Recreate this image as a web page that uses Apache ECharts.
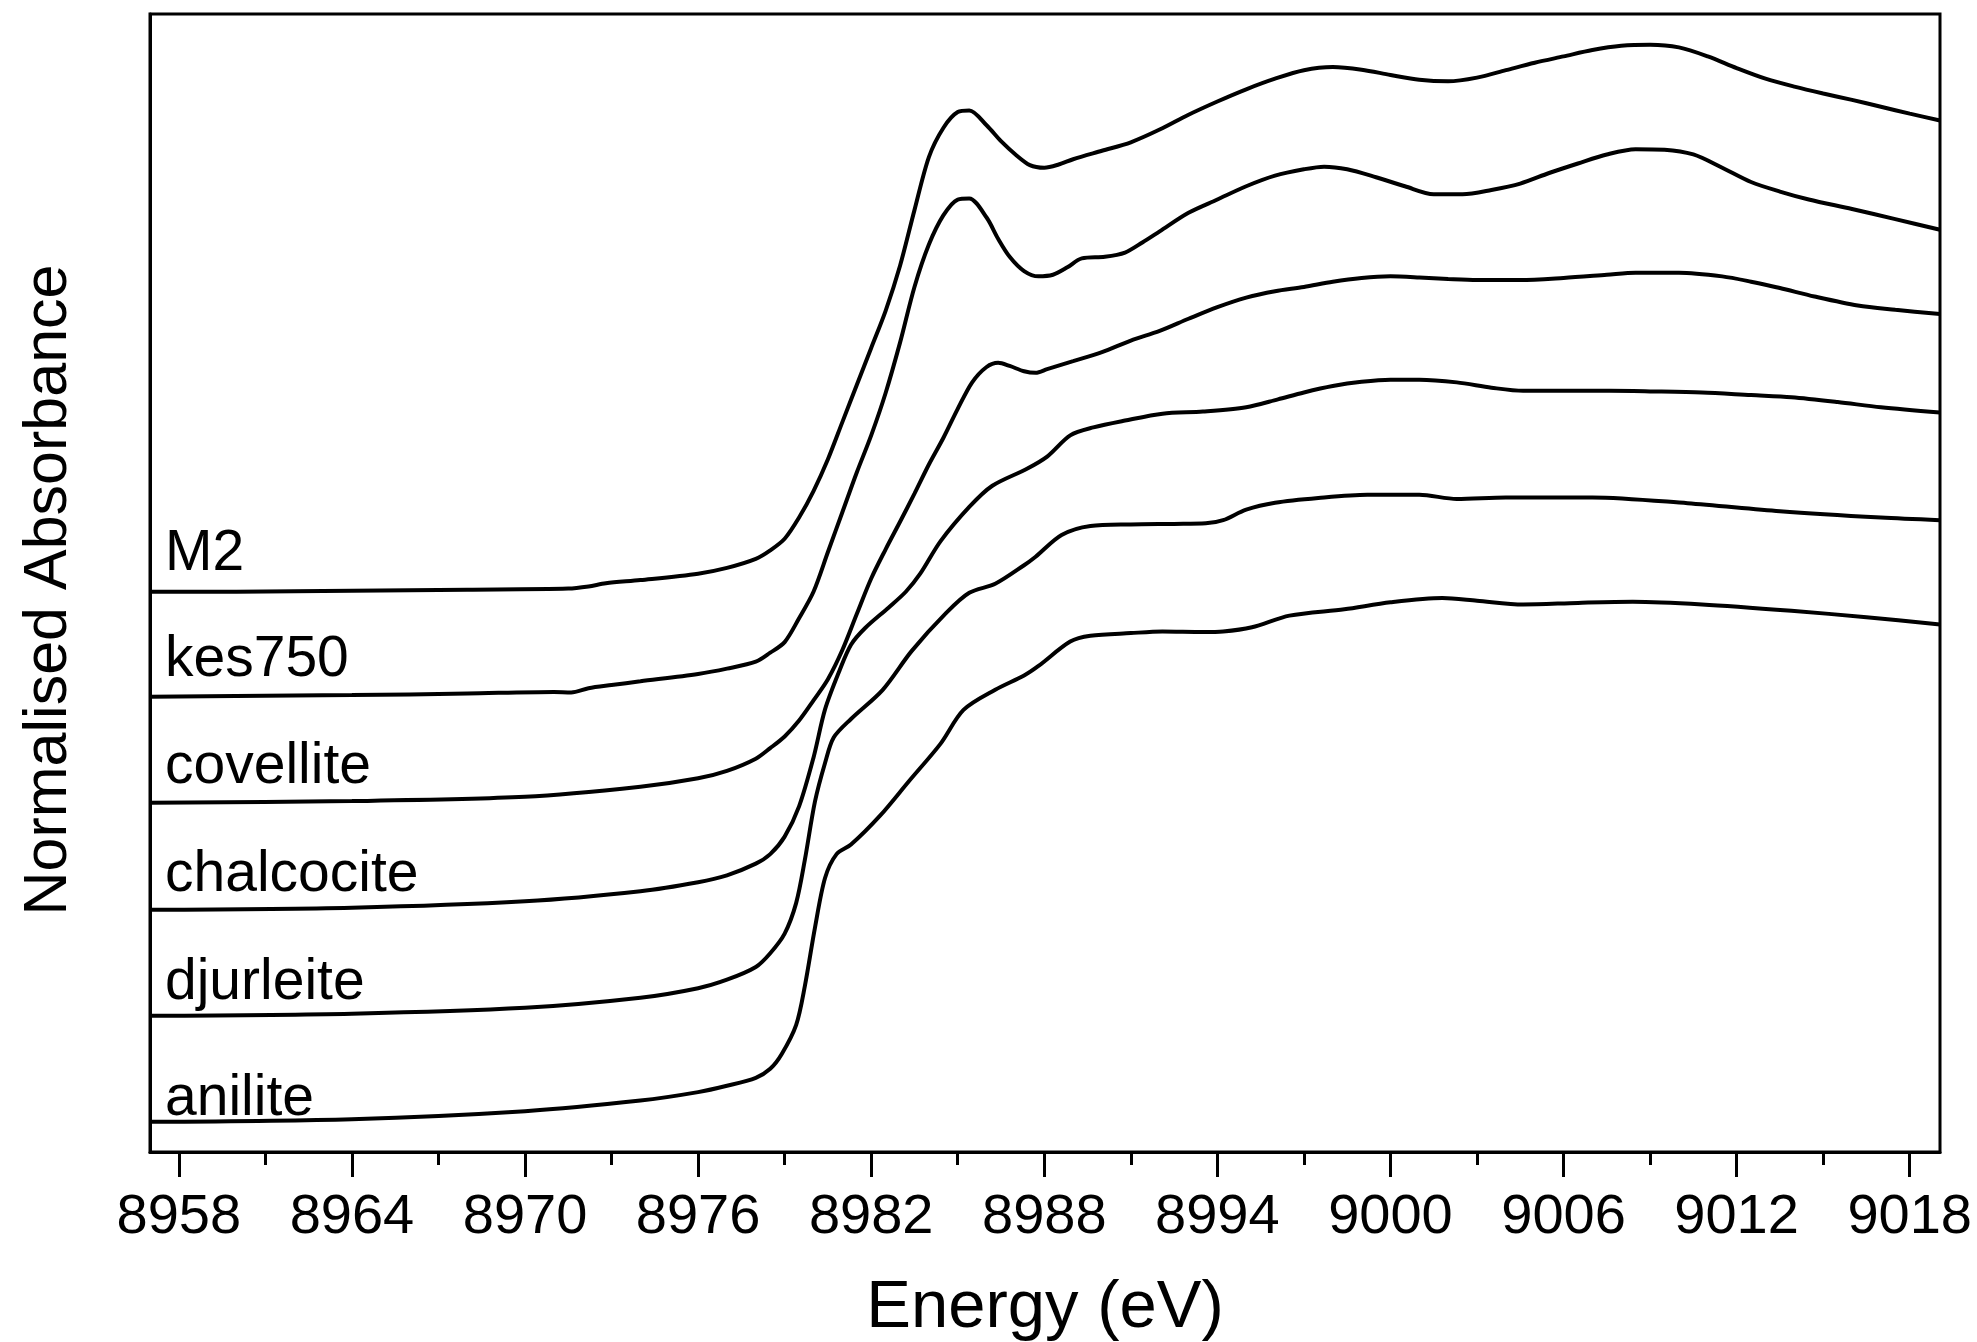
<!DOCTYPE html>
<html>
<head>
<meta charset="utf-8">
<script src="https://cdn.jsdelivr.net/npm/echarts@6/dist/echarts.min.js"></script>
<style>
  html, body { margin: 0; padding: 0; background: #fff; }
  #chart { width: 1977px; height: 1342px; }
</style>
</head>
<body>
<div id="chart"></div>
<script>
// ---------- data (stacked, offset-included normalised absorbance) ----------
const seriesNames = ['M2', 'kes750', 'covellite', 'chalcocite', 'djurleite', 'anilite'];

const m2E = [8957, 8960, 8964, 8968, 8971.5, 8972.2, 8972.8, 8974, 8976, 8977, 8978, 8978.5, 8979, 8979.5, 8980, 8980.5, 8981, 8981.5, 8982, 8982.5, 8983, 8983.5, 8984, 8984.5, 8985, 8985.4, 8986, 8986.5, 8987, 8987.5, 8988, 8988.5, 8989, 8990, 8991, 8992, 8993, 8994, 8995, 8996, 8997, 8998, 8999, 9000, 9001, 9002, 9003, 9004, 9005, 9006, 9007, 9008, 9009, 9010, 9011, 9012, 9013, 9014, 9015, 9016, 9017, 9018, 9019.05];
const m2Y = [1.000, 1.000, 1.002, 1.004, 1.006, 1.010, 1.016, 1.022, 1.034, 1.045, 1.062, 1.078, 1.100, 1.140, 1.190, 1.250, 1.320, 1.390, 1.460, 1.530, 1.615, 1.720, 1.820, 1.875, 1.905, 1.908, 1.880, 1.850, 1.825, 1.805, 1.800, 1.806, 1.816, 1.832, 1.848, 1.872, 1.900, 1.925, 1.948, 1.968, 1.984, 1.990, 1.985, 1.975, 1.966, 1.963, 1.970, 1.984, 1.998, 2.010, 2.022, 2.030, 2.032, 2.027, 2.010, 1.988, 1.968, 1.953, 1.940, 1.928, 1.915, 1.902, 1.889];

const kesE = [8957, 8964, 8968, 8971, 8971.6, 8972.2, 8973, 8974, 8976, 8977, 8978, 8978.5, 8979, 8979.5, 8980, 8980.5, 8981, 8981.5, 8982, 8982.5, 8983, 8983.5, 8984, 8984.5, 8985, 8985.4, 8986, 8986.4, 8986.8, 8987.3, 8987.8, 8988.3, 8988.8, 8989.3, 8990.1, 8990.8, 8991.4, 8992, 8993, 8994, 8995, 8996, 8997, 8997.7, 8998.5, 8999.5, 9000.5, 9001.5, 9002.5, 9003.5, 9004.5, 9005.5, 9006.5, 9007.5, 9008.5, 9009.5, 9010.5, 9011.5, 9012.5, 9013.5, 9014.5, 9016, 9017.5, 9019.05];
const kesY = [0.802, 0.805, 0.808, 0.811, 0.810, 0.818, 0.824, 0.831, 0.845, 0.855, 0.868, 0.885, 0.905, 0.950, 1.000, 1.075, 1.150, 1.225, 1.295, 1.375, 1.470, 1.575, 1.655, 1.710, 1.740, 1.742, 1.706, 1.666, 1.632, 1.605, 1.595, 1.598, 1.612, 1.629, 1.632, 1.640, 1.659, 1.680, 1.715, 1.740, 1.765, 1.785, 1.797, 1.802, 1.797, 1.782, 1.765, 1.750, 1.750, 1.758, 1.770, 1.790, 1.808, 1.825, 1.835, 1.834, 1.825, 1.800, 1.773, 1.755, 1.740, 1.722, 1.703, 1.683];

const covE = [8957, 8964, 8970, 8974, 8976, 8977, 8978, 8978.5, 8979, 8979.5, 8980, 8980.5, 8981, 8981.5, 8982, 8982.5, 8983, 8983.5, 8984, 8984.5, 8985, 8985.5, 8986, 8986.4, 8986.8, 8987.3, 8987.7, 8988.1, 8989, 8990, 8991, 8992, 8993, 8994, 8995, 8996, 8997, 8998, 8999, 9000, 9001, 9002, 9003, 9004.5, 9006, 9007.5, 9008.5, 9010, 9011.5, 9012.5, 9013.5, 9014.7, 9016.2, 9017.5, 9019.05];
const covY = [0.602, 0.605, 0.613, 0.632, 0.648, 0.662, 0.685, 0.705, 0.727, 0.757, 0.795, 0.835, 0.890, 0.958, 1.025, 1.080, 1.132, 1.185, 1.240, 1.290, 1.345, 1.395, 1.424, 1.432, 1.426, 1.416, 1.413, 1.420, 1.435, 1.452, 1.474, 1.492, 1.515, 1.537, 1.555, 1.567, 1.575, 1.585, 1.592, 1.595, 1.593, 1.590, 1.588, 1.588, 1.592, 1.598, 1.602, 1.602, 1.595, 1.585, 1.573, 1.557, 1.540, 1.532, 1.524];

const chaE = [8957, 8964, 8970, 8974, 8976, 8977, 8978, 8978.5, 8979, 8979.5, 8980, 8980.4, 8980.9, 8981.3, 8981.8, 8982.6, 8983.2, 8983.7, 8984.4, 8985.4, 8986.2, 8987.4, 8988.1, 8988.9, 8989.7, 8990.8, 8992.1, 8993.5, 8995, 8996.1, 8997, 8998, 8999, 9000, 9001, 9002.3, 9003.5, 9004.6, 9006, 9007.6, 9009, 9010.8, 9012.5, 9013.9, 9015.5, 9017, 9019.05];
const chaY = [0.400, 0.404, 0.416, 0.435, 0.452, 0.465, 0.487, 0.505, 0.538, 0.595, 0.687, 0.778, 0.851, 0.900, 0.932, 0.970, 1.000, 1.034, 1.095, 1.160, 1.200, 1.232, 1.255, 1.295, 1.310, 1.323, 1.336, 1.340, 1.348, 1.363, 1.376, 1.388, 1.396, 1.400, 1.400, 1.395, 1.385, 1.379, 1.379, 1.379, 1.378, 1.376, 1.371, 1.367, 1.358, 1.348, 1.338];

const djuE = [8957, 8964, 8970, 8974, 8976, 8977, 8978, 8978.5, 8979, 8979.4, 8979.7, 8980.05, 8980.4, 8980.7, 8981.3, 8982.4, 8983.4, 8984.6, 8985.4, 8986.3, 8987.3, 8987.7, 8988.6, 8989.6, 8991, 8992.5, 8993.6, 8994.2, 8995, 8996, 8997.5, 8999.2, 9001, 9002.3, 9004, 9007, 9010.3, 9013.5, 9017, 9019.05];
const djuY = [0.200, 0.204, 0.215, 0.234, 0.252, 0.268, 0.292, 0.318, 0.355, 0.413, 0.494, 0.604, 0.677, 0.725, 0.760, 0.815, 0.888, 0.960, 0.998, 1.015, 1.050, 1.066, 1.107, 1.124, 1.127, 1.128, 1.129, 1.135, 1.155, 1.168, 1.177, 1.183, 1.183, 1.175, 1.178, 1.178, 1.167, 1.152, 1.140, 1.135];

const aniE = [8957, 8964, 8970, 8974, 8976, 8977, 8978, 8978.5, 8978.9, 8979.4, 8979.7, 8980.05, 8980.4, 8980.8, 8981.3, 8982.3, 8983.3, 8984.4, 8985.2, 8986.3, 8987.3, 8987.8, 8988.9, 8989.6, 8991, 8992.1, 8993.5, 8994.2, 8995.2, 8996.5, 8998.4, 9000, 9001.8, 9003, 9004.6, 9006.5, 9008.4, 9010.8, 9013.9, 9016.5, 9019.05];
const aniY = [0.000, 0.005, 0.020, 0.040, 0.056, 0.068, 0.083, 0.100, 0.128, 0.183, 0.256, 0.366, 0.460, 0.505, 0.523, 0.577, 0.642, 0.713, 0.777, 0.815, 0.842, 0.860, 0.906, 0.917, 0.922, 0.925, 0.924, 0.925, 0.933, 0.955, 0.967, 0.980, 0.988, 0.983, 0.976, 0.979, 0.981, 0.976, 0.964, 0.952, 0.938];

const majorTicks = [8958, 8964, 8970, 8976, 8982, 8988, 8994, 9000, 9006, 9012, 9018];
const minorTicks = [8961, 8967, 8973, 8979, 8985, 8991, 8997, 9003, 9009, 9015];

// ---------- styling ----------
const FONT = "'Liberation Sans', Arial, Helvetica, sans-serif";
const labelGapPx = [9, 8, 7, 6, 4, -6];   // vertical label offset above each curve (px)

const energies = [m2E, kesE, covE, chaE, djuE, aniE];
const values   = [m2Y, kesY, covY, chaY, djuY, aniY];

const series = seriesNames.map((name, k) => ({
  name: name,
  type: 'line',
  xAxisIndex: 0,
  yAxisIndex: 0,
  data: energies[k].map((e, i) => [e, values[k][i]]),
  showSymbol: false,
  smooth: 0.3,
  lineStyle: { color: '#000', width: 4 },
  itemStyle: { color: '#000' },
  silent: true,
  markPoint: {
    symbol: 'circle',
    symbolSize: 0,
    silent: true,
    data: [{
      coord: [8957, values[k][0]],
      label: {
        show: true,
        formatter: name,
        position: [0, 0],
        align: 'left',
        verticalAlign: 'bottom',
        offset: [15, -labelGapPx[k]],
        fontFamily: FONT,
        fontSize: 57,
        color: '#000'
      }
    }]
  }
}));

const chart = echarts.init(document.getElementById('chart'), null, { renderer: 'canvas' });
chart.setOption({
  animation: false,
  backgroundColor: '#fff',
  grid: {
    left: 150, right: 37, top: 14, bottom: 190,
    outerBoundsMode: 'none',
    containLabel: false,
    show: true, borderColor: '#000', borderWidth: 3, backgroundColor: 'transparent'
  },
  xAxis: [{
    type: 'value',
    min: 8957, max: 9019.05,
    position: 'bottom',
    name: 'Energy (eV)',
    nameLocation: 'middle',
    nameGap: 123,
    nameTextStyle: { fontFamily: FONT, fontSize: 67, color: '#000' },
    axisLine: { show: true, onZero: false, lineStyle: { color: '#000', width: 3 } },
    axisTick: { show: true, customValues: majorTicks, length: 25, lineStyle: { color: '#000', width: 3 } },
    axisLabel: {
      show: true, customValues: majorTicks, margin: 38,
      formatter: v => String(v),
      fontFamily: FONT, fontSize: 56, color: '#000'
    },
    splitLine: { show: false }
  }, {
    type: 'value',
    min: 8957, max: 9019.05,
    position: 'bottom',
    offset: 0,
    axisLine: { show: false, onZero: false },
    axisTick: { show: true, customValues: minorTicks, length: 13, lineStyle: { color: '#000', width: 3 } },
    axisLabel: { show: false },
    splitLine: { show: false }
  }],
  yAxis: {
    type: 'value',
    min: -0.057, max: 2.09,
    name: 'Normalised Absorbance',
    nameLocation: 'middle',
    nameGap: 70,
    nameTextStyle: { fontFamily: FONT, fontSize: 61, color: '#000', padding: [0, 14, 0, 0] },
    axisLine: { show: true, onZero: false, lineStyle: { color: '#000', width: 3 } },
    axisTick: { show: false },
    axisLabel: { show: false },
    splitLine: { show: false }
  },
  series: series
});
</script>
</body>
</html>
